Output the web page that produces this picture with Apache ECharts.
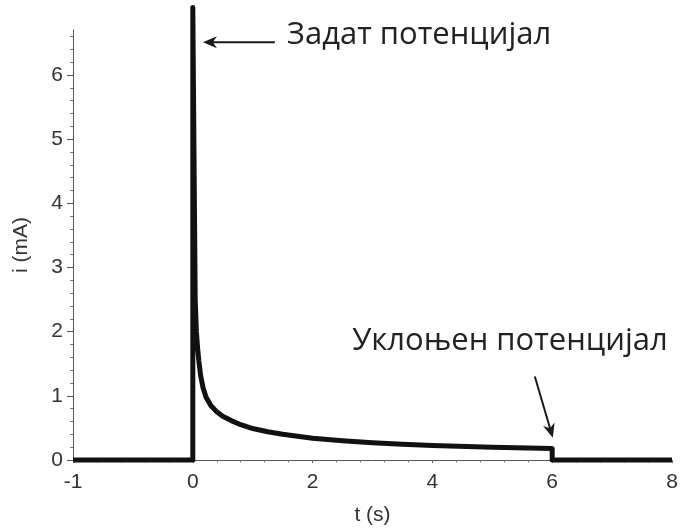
<!DOCTYPE html>
<html>
<head>
<meta charset="utf-8">
<script src="https://cdn.jsdelivr.net/npm/echarts@6/dist/echarts.min.js"></script>
<style>
  html, body { margin: 0; padding: 0; background: #fff; }
  #chart { width: 684px; height: 531px; }
</style>
</head>
<body>
<div id="chart"></div>
<script>
// Current response to a potential step applied at t = 0 and removed at t = 6 s.
const times    = [-1, 0, 0,    0.04, 0.06, 0.08, 0.1,  0.13, 0.17, 0.22, 0.3,  0.4,  0.5,  0.65, 0.8,  1.0,  1.25, 1.5, 2.0,  2.5, 3.0,  3.5,   4.0,   5.0, 6.0,  6.0, 8];
const currents = [0,  0, 7.05, 2.5,  2.0,  1.75, 1.55, 1.32, 1.13, 0.98, 0.85, 0.75, 0.68, 0.61, 0.55, 0.49, 0.44, 0.4, 0.34, 0.3, 0.27, 0.245, 0.225, 0.2, 0.18, 0,   0];

const xTickLabels = ['-1', '0', '2', '4', '6', '8'];
const yTickLabels = ['0', '1', '2', '3', '4', '5', '6'];

const xAxisName = 't (s)';
const yAxisName = 'i (mA)';
const appliedText = 'Задат потенцијал';
const removedText = 'Уклоњен потенцијал';

// The interval before the step (t < 0) is drawn stretched to twice its width.
const toAxis = t => (t < 0 ? 2 * t : t);

const seriesData = times.map((t, k) => [toAxis(t), currents[k]]);

// Fine ticks every 0.2 mA, long ticks on whole mA.
const yMax = 6.7;
const fineTicks = [];
for (let k = 0; k <= 33; k++) fineTicks.push(+(k * 0.2).toFixed(1));
const wholeTicks = yTickLabels.map(Number);

const sans = 'Liberation Sans, Arial, sans-serif';
const labelFont = { fontFamily: sans, fontSize: 21, color: '#333' };

const chart = echarts.init(document.getElementById('chart'), null, { renderer: 'canvas' });

chart.setOption({
  animation: false,
  backgroundColor: '#fff',
  grid: { left: 73, right: 12, top: 30, bottom: 66.5, containLabel: false },
  xAxis: {
    type: 'value',
    min: -2, max: 8, interval: 2,
    name: xAxisName,
    nameLocation: 'middle',
    nameGap: 45,
    nameTextStyle: { fontFamily: sans, fontSize: 21, color: '#333' },
    axisLine: { show: true, onZero: false, lineStyle: { color: '#555', width: 1 } },
    axisTick: { show: true, length: 3, lineStyle: { color: '#666' } },
    minorTick: { show: true, splitNumber: 5, length: 2.5, lineStyle: { color: '#777' } },
    splitLine: { show: false },
    axisLabel: Object.assign({ margin: 12, formatter: (v, i) => xTickLabels[i] }, labelFont)
  },
  yAxis: [
    {
      type: 'value',
      min: 0, max: yMax, interval: 1,
      name: yAxisName,
      nameLocation: 'middle',
      nameGap: 41,
      nameRotate: 90,
      nameTextStyle: { fontFamily: sans, fontSize: 21, color: '#333' },
      axisLine: { show: true, onZero: false, lineStyle: { color: '#555', width: 1 } },
      axisTick: { show: true, customValues: fineTicks, length: 3, lineStyle: { color: '#777' } },
      splitLine: { show: false },
      axisLabel: Object.assign({ margin: 10, showMaxLabel: false, formatter: v => yTickLabels[v] !== undefined ? yTickLabels[v] : '' }, labelFont)
    },
    {
      type: 'value',
      min: 0, max: yMax, interval: 1,
      position: 'left',
      axisLine: { show: false, onZero: false },
      axisTick: { show: true, customValues: wholeTicks, length: 6, lineStyle: { color: '#555' } },
      axisLabel: { show: false },
      splitLine: { show: false }
    }
  ],
  series: [{
    type: 'line',
    data: seriesData,
    yAxisIndex: 0,
    showSymbol: false,
    symbol: 'none',
    clip: false,
    lineStyle: { color: '#111', width: 5, join: 'round', cap: 'butt' },
    z: 5
  }]
});

// Annotations: arrows pointing at the step-on and step-off instants.
function px(t, i) {
  return chart.convertToPixel({ xAxisIndex: 0, yAxisIndex: 0 }, [toAxis(t), i]);
}

function arrow(tail, tip, color) {
  const dx = tip[0] - tail[0], dy = tip[1] - tail[1];
  const len = Math.sqrt(dx * dx + dy * dy);
  const ux = dx / len, uy = dy / len;
  const headLen = 14, headHalf = 6;
  const base = [tip[0] - ux * headLen, tip[1] - uy * headLen];
  const notch = [tip[0] - ux * headLen * 0.7, tip[1] - uy * headLen * 0.7];
  return [
    { type: 'line', shape: { x1: tail[0], y1: tail[1], x2: notch[0], y2: notch[1] },
      style: { stroke: color, lineWidth: 2 }, z: 10 },
    { type: 'polygon', shape: { points: [
        tip,
        [base[0] - uy * headHalf, base[1] + ux * headHalf],
        notch,
        [base[0] + uy * headHalf, base[1] - ux * headHalf]
      ] }, style: { fill: color }, z: 10 }
  ];
}

const textFont = '"Open Sans", "Noto Sans", sans-serif';
const a1 = arrow(px(1.37, 6.51), px(0.17, 6.51), '#1a1a1a');
const a2 = arrow(px(5.71, 1.3), px(6.01, 0.347), '#1a1a1a');
const t1 = px(1.57, 6.86);
const t2 = px(2.66, 2.1);

chart.setOption({
  graphic: [
    ...a1, ...a2,
    { type: 'text', x: t1[0], y: t1[1], z: 10,
      style: { text: appliedText, font: '31px ' + textFont, fill: '#222', textAlign: 'left', textVerticalAlign: 'top' } },
    { type: 'text', x: t2[0], y: t2[1], z: 10,
      style: { text: removedText, font: '31px ' + textFont, fill: '#222', textAlign: 'left', textVerticalAlign: 'top' } }
  ]
});
</script>
</body>
</html>
